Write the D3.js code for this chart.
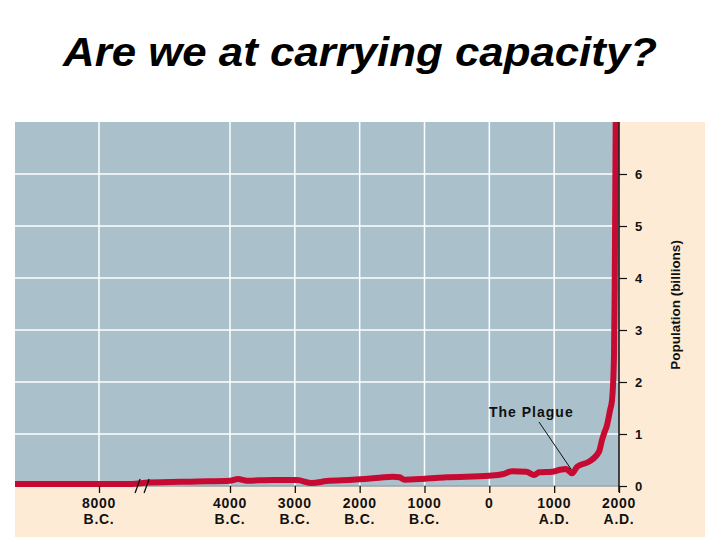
<!DOCTYPE html>
<html>
<head>
<meta charset="utf-8">
<script src="https://cdn.jsdelivr.net/npm/d3@7"></script>
<style>
  html, body { margin: 0; padding: 0; background: #ffffff; }
  svg { display: block; font-family: "Liberation Sans", Arial, Helvetica, sans-serif; }
</style>
</head>
<body>
<svg id="chart" width="720" height="540"></svg>
<script>
// ---- data ----
const titleText = "Are we at carrying capacity?";
const years = [-10500, -8000, -7000, -6500, -5000, -4000, -3877, -3738, -3338, -2969, -2738, -2508, -2108, -1692, -1492, -1385, -1308, -1031, -662, 0, 200, 354, 569, 692, 769, 969, 1077, 1185, 1277, 1354, 1538, 1692, 1738, 1769, 1815, 1862, 1892, 1923, 1934, 1950];
const population = [0.038, 0.038, 0.04, 0.065, 0.087, 0.102, 0.135, 0.102, 0.115, 0.115, 0.058, 0.096, 0.12, 0.16, 0.179, 0.167, 0.122, 0.135, 0.167, 0.198, 0.225, 0.282, 0.275, 0.212, 0.263, 0.275, 0.308, 0.327, 0.244, 0.371, 0.468, 0.66, 0.885, 1.01, 1.17, 1.46, 1.65, 2.5, 3.83, 7.2];
const xTickYears = [-8000, -4000, -3000, -2000, -1000, 0, 1000, 2000];
const xTickTop = ["8000", "4000", "3000", "2000", "1000", "0", "1000", "2000"];
const xTickBottom = ["B.C.", "B.C.", "B.C.", "B.C.", "B.C.", "", "A.D.", "A.D."];
const yTicks = [0, 1, 2, 3, 4, 5, 6];
const yAxisLabel = "Population (billions)";
const annotationText = "The Plague";
const plagueYear = 1277;
const plagueValue = 0.244;
const breakYear = -6700;

// ---- layout ----
const svg = d3.select("#chart");
const plot = { left: 15, right: 619, top: 122, bottom: 486 };
const panel = { left: 15, right: 705, top: 122, bottom: 537 };

// piecewise (broken) time scale
const x = d3.scaleLinear()
  .domain([-10500, -8000, -4000, 2000])
  .range([plot.left, 99, 230, plot.right]);
const y = d3.scaleLinear().domain([0, 7]).range([plot.bottom, plot.top]);

// title
svg.append("text")
  .attr("x", 360).attr("y", 66)
  .attr("text-anchor", "middle")
  .attr("font-size", 41)
  .attr("font-weight", "bold")
  .attr("font-style", "italic")
  .attr("textLength", 594)
  .attr("lengthAdjust", "spacingAndGlyphs")
  .attr("fill", "#000")
  .text(titleText);

// backgrounds
svg.append("rect")
  .attr("x", panel.left).attr("y", panel.top)
  .attr("width", panel.right - panel.left).attr("height", panel.bottom - panel.top)
  .attr("fill", "#fdebd6");
svg.append("rect")
  .attr("x", plot.left).attr("y", plot.top)
  .attr("width", plot.right - plot.left).attr("height", plot.bottom - plot.top)
  .attr("fill", "#aac1cc");

// grid
const g = svg.append("g");
g.selectAll("line.vg").data(xTickYears.filter(d => d < 2000)).enter().append("line")
  .attr("x1", d => x(d)).attr("x2", d => x(d))
  .attr("y1", plot.top).attr("y2", plot.bottom)
  .attr("stroke", "#ffffff").attr("stroke-width", 1.5);
g.selectAll("line.hg").data(yTicks.filter(d => d > 0)).enter().append("line")
  .attr("x1", plot.left).attr("x2", plot.right)
  .attr("y1", d => y(d)).attr("y2", d => y(d))
  .attr("stroke", "#ffffff").attr("stroke-width", 1.5);

// baseline
svg.append("line")
  .attr("x1", plot.left).attr("x2", plot.right)
  .attr("y1", plot.bottom).attr("y2", plot.bottom)
  .attr("stroke", "#9aa3a8").attr("stroke-width", 1.5);

// clip
svg.append("clipPath").attr("id", "clip").append("rect")
  .attr("x", plot.left).attr("y", plot.top)
  .attr("width", plot.right - plot.left + 2).attr("height", plot.bottom - plot.top + 4);

// population line
const pts = years.map((yr, i) => [yr, population[i]]);
const line = d3.line()
  .x(d => x(d[0])).y(d => y(d[1]))
  .curve(d3.curveMonotoneX);
svg.append("path")
  .datum(pts)
  .attr("clip-path", "url(#clip)")
  .attr("d", line)
  .attr("fill", "none")
  .attr("stroke", "#c70a32")
  .attr("stroke-width", 6)
  .attr("stroke-linejoin", "round")
  .attr("stroke-linecap", "butt");

// break marks
const bx = x(breakYear);
[-4, 5].forEach(off => {
  svg.append("line")
    .attr("x1", bx + off - 2.5).attr("y1", plot.bottom + 7)
    .attr("x2", bx + off + 2.5).attr("y2", plot.bottom - 7)
    .attr("stroke", "#111").attr("stroke-width", 1.3);
});

// x axis
const xAxis = d3.axisBottom(x).tickValues(xTickYears).tickSize(7).tickFormat(() => "");
const xg = svg.append("g").attr("transform", `translate(0,${plot.bottom})`).call(xAxis);
xg.select(".domain").remove();
xg.selectAll(".tick line").attr("stroke", "#111").attr("stroke-width", 1.3);
xTickYears.forEach((yr, i) => {
  const t = svg.append("text")
    .attr("x", x(yr)).attr("text-anchor", "middle")
    .attr("font-size", 14).attr("font-weight", "bold")
    .attr("letter-spacing", 0.7)
    .attr("fill", "#111");
  t.append("tspan").attr("x", x(yr)).attr("y", 508).text(xTickTop[i]);
  if (xTickBottom[i]) t.append("tspan").attr("x", x(yr)).attr("y", 524).text(xTickBottom[i]);
});

// right y axis
const yAxis = d3.axisRight(y).tickValues(yTicks).tickSize(8).tickPadding(8).tickFormat(d3.format("d"));
const yg = svg.append("g").attr("transform", `translate(${plot.right},0)`).call(yAxis);
yg.select(".domain").attr("d", `M0,${plot.top}V${plot.bottom + 6}`).attr("stroke", "#111").attr("stroke-width", 1.5);
yg.selectAll(".tick line").attr("stroke", "#111").attr("stroke-width", 1.2);
yg.selectAll(".tick text")
  .attr("font-size", 13).attr("font-weight", "bold")
  .attr("font-family", "Liberation Sans, Arial, sans-serif")
  .attr("fill", "#111");

svg.append("text")
  .attr("transform", `translate(680,305) rotate(-90)`)
  .attr("text-anchor", "middle")
  .attr("font-size", 13.5).attr("font-weight", "bold")
  .attr("fill", "#111")
  .text(yAxisLabel);

// annotation
svg.append("text")
  .attr("x", 489).attr("y", 417)
  .attr("font-size", 14).attr("font-weight", "bold")
  .attr("letter-spacing", 1)
  .attr("fill", "#111")
  .text(annotationText);
svg.append("line")
  .attr("x1", 539).attr("y1", 422)
  .attr("x2", x(plagueYear) - 1).attr("y2", y(plagueValue) - 4)
  .attr("stroke", "#111").attr("stroke-width", 1);
</script>
</body>
</html>
